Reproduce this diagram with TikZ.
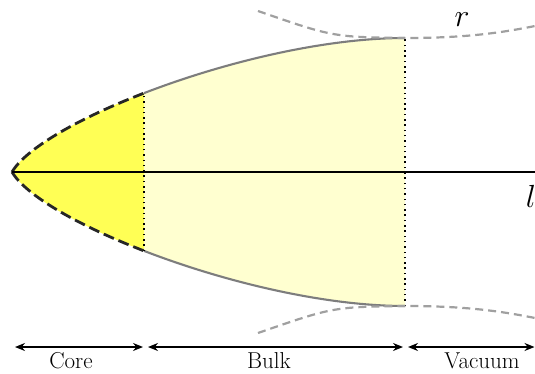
\RequirePackage{fix-cm}
\documentclass[tikz,border=0pt]{standalone}
\usetikzlibrary{arrows.meta}
\definecolor{coreyellow}{RGB}{255,255,85}
\definecolor{bulkyellow}{RGB}{255,255,208}
\definecolor{bulkgray}{RGB}{125,125,125}
\definecolor{vacgray}{RGB}{160,160,160}
\tikzset{
  coredash/.style={draw=black!85, line width=2.8pt, dash pattern=on 11pt off 5pt, line cap=butt},
  bulkline/.style={draw=bulkgray, line width=2.1pt},
  vacdash/.style={draw=vacgray, line width=2.2pt, dash pattern=on 8pt off 5pt},
  dotline/.style={draw=black, line width=1.5pt, dash pattern=on 1.5pt off 3.8pt},
  axisline/.style={draw=black, line width=2.2pt},
  dimarrow/.style={line width=1.5pt, {Stealth[length=10pt,width=8pt]}-{Stealth[length=10pt,width=8pt]}},
  lab/.style={font=\fontsize{23}{27}\selectfont, inner sep=0pt, anchor=base},
  mlab/.style={font=\fontsize{32}{38}\selectfont, inner sep=0pt, anchor=base}
}
\begin{document}
\begin{tikzpicture}[x=1pt,y=1pt]
\useasboundingbox (0,0) rectangle (535,373);
% key points
\coordinate (tip) at (12,201);
\coordinate (ut) at (405,335);
\coordinate (lt) at (405,67);
\coordinate (axend) at (535,201);
% bulk fill
\fill[bulkyellow] (tip) .. controls (42,252) and (255,335) .. (ut) -- (lt) .. controls (255,67) and (42,150) .. (tip) -- cycle;
% core fill and dashed boundary
\begin{scope}
  \clip (0,0) rectangle (144,373);
  \fill[coreyellow] (tip) .. controls (42,252) and (255,335) .. (ut) -- (lt) .. controls (255,67) and (42,150) .. (tip) -- cycle;
  \path[coredash] (tip) .. controls (42,252) and (255,335) .. (ut);
  \path[coredash] (tip) .. controls (42,150) and (255,67) .. (lt);
\end{scope}
% bulk boundary
\begin{scope}
  \clip (144,0) rectangle (535,373);
  \path[bulkline] (tip) .. controls (42,252) and (255,335) .. (ut);
  \path[bulkline] (tip) .. controls (42,150) and (255,67) .. (lt);
\end{scope}
% dotted separators
\begin{scope}
  \clip (tip) .. controls (42,252) and (255,335) .. (ut) -- (lt) .. controls (255,67) and (42,150) .. (tip) -- cycle;
  \coordinate (cb) at (144,0);
  \coordinate (ct) at (144,373);
  \path[dotline] (cb) -- (ct);
\end{scope}
\path[dotline] (lt) -- (ut);
% axis
\path[axisline] (tip) -- (axend);
% vacuum dashed curves
\coordinate (vu1) at (258,362);
\coordinate (vu2) at (535,347);
\coordinate (vl1) at (258,40);
\coordinate (vl2) at (535,55);
\path[vacdash] (vu1) .. controls (333,336) .. (ut) .. controls (465,335) and (500,340) .. (vu2);
\path[vacdash] (vl1) .. controls (333,66) .. (lt) .. controls (465,67) and (500,62) .. (vl2);
% dimension arrows
\coordinate (a1) at (15,26);
\coordinate (a2) at (143,26);
\coordinate (b1) at (148,26);
\coordinate (b2) at (403,26);
\coordinate (c1) at (408,26);
\coordinate (c2) at (534.5,26);
\draw[dimarrow] (a1) -- (a2);
\draw[dimarrow] (b1) -- (b2);
\draw[dimarrow] (c1) -- (c2);
% labels
\node[lab] (core) at (71,5) {Core};
\node[lab] (bulk) at (269,5) {Bulk};
\node[lab] (vac) at (482,5) {Vacuum};
\node[mlab] (rlab) at (462,346) {$r$};
\node[mlab] (llab) at (531,166) {$l$};
\end{tikzpicture}
\end{document}
